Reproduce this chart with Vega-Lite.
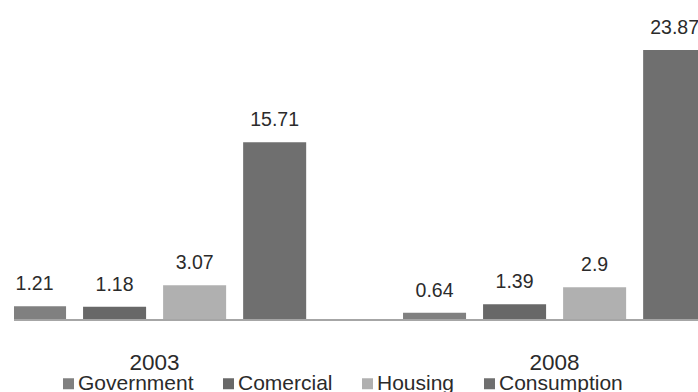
{
  "$schema": "https://vega.github.io/schema/vega-lite/v6.json",
  "width": 684,
  "height": 320,
  "autosize": "none",
  "padding": {"left": 14, "top": 0, "right": 0, "bottom": 72},
  "background": "white",
  "config": {
    "view": {"stroke": null},
    "font": "Liberation Sans"
  },
  "data": {
    "values": [
      {"year": "2003", "series": "Government", "value": 1.21},
      {"year": "2003", "series": "Comercial", "value": 1.18},
      {"year": "2003", "series": "Housing", "value": 3.07},
      {"year": "2003", "series": "Consumption", "value": 15.71},
      {"year": "2008", "series": "Government", "value": 0.64},
      {"year": "2008", "series": "Comercial", "value": 1.39},
      {"year": "2008", "series": "Housing", "value": 2.9},
      {"year": "2008", "series": "Consumption", "value": 23.87}
    ]
  },
  "layer": [
    {
      "mark": {"type": "bar", "clip": true},
      "encoding": {
        "x": {
          "field": "year", "type": "nominal",
          "scale": {"range": [-59.4, 740.6], "paddingInner": 0, "paddingOuter": 0},
          "axis": {
            "title": null, "domain": false, "ticks": false, "grid": false,
            "labelAngle": 0, "labelFont": "Liberation Sans", "labelFontSize": 22.5,
            "labelColor": "#2b2b2b", "labelBaseline": "alphabetic", "labelPadding": 49
          }
        },
        "xOffset": {
          "field": "series", "type": "nominal",
          "sort": ["Government", "Comercial", "Housing", "Consumption"],
          "scale": {"paddingInner": 0.2125, "paddingOuter": 0.605}
        },
        "y": {
          "field": "value", "type": "quantitative",
          "scale": {"domain": [0, 28.3], "nice": false, "zero": true},
          "axis": null
        },
        "color": {
          "field": "series", "type": "nominal",
          "scale": {
            "domain": ["Government", "Comercial", "Housing", "Consumption"],
            "range": ["#808080", "#686868", "#b0b0b0", "#6f6f6f"]
          },
          "legend": {
            "title": null, "orient": "none", "direction": "horizontal",
            "legendX": 44, "legendY": 373, "padding": 0,
            "symbolType": "square", "symbolSize": 121, "symbolStrokeWidth": 0,
            "labelFont": "Liberation Sans", "labelFontSize": 21, "labelColor": "#2b2b2b",
            "labelOffset": -1, "columnPadding": 24, "labelLimit": 300
          }
        }
      }
    },
    {
      "mark": {
        "type": "text", "baseline": "alphabetic", "dy": -16,
        "font": "Liberation Sans", "fontSize": 19.5, "color": "#2b2b2b"
      },
      "encoding": {
        "x": {"field": "year", "type": "nominal"},
        "xOffset": {
          "field": "series", "type": "nominal",
          "sort": ["Government", "Comercial", "Housing", "Consumption"]
        },
        "y": {"field": "value", "type": "quantitative"},
        "text": {"field": "value", "type": "quantitative", "format": "~r"}
      }
    },
    {
      "mark": {"type": "rule", "color": "#a6a6a6", "strokeWidth": 1.5},
      "encoding": {"y": {"datum": 0}}
    }
  ]
}
